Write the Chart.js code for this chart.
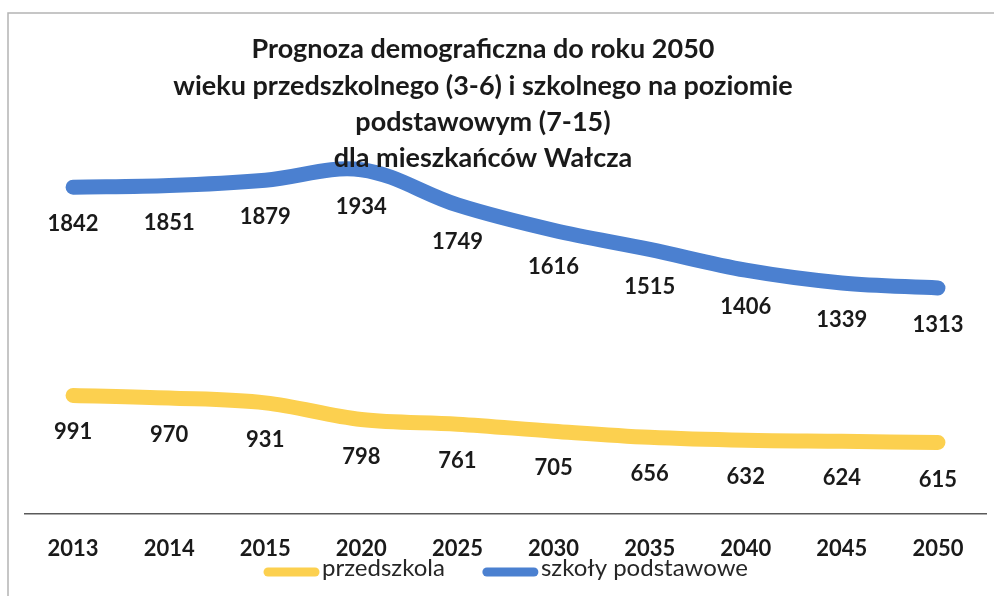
<!DOCTYPE html>
<html>
<head>
<meta charset="utf-8">
<script src="https://cdn.jsdelivr.net/npm/chart.js@4/dist/chart.umd.min.js"></script>
<style>
  html, body { margin: 0; padding: 0; background: #ffffff; }
  #wrap { width: 994px; height: 596px; position: relative; }
</style>
</head>
<body>
<div id="wrap"><canvas id="c" width="994" height="596"></canvas></div>
<script>
const titleLines = [
  'Prognoza demograficzna do roku 2050',
  'wieku przedszkolnego (3-6) i szkolnego na poziomie',
  'podstawowym (7-15)',
  'dla mieszkańców Wałcza'
];
const years = ['2013', '2014', '2015', '2020', '2025', '2030', '2035', '2040', '2045', '2050'];
const przedszkola = [991, 970, 931, 798, 761, 705, 656, 632, 624, 615];
const szkolyPodstawowe = [1842, 1851, 1879, 1934, 1749, 1616, 1515, 1406, 1339, 1313];
const seriesNames = ['przedszkola', 'szkoły podstawowe'];

const YELLOW = '#fcd04f';
const BLUE = '#4b80d0';
const FONT = 'Lato, "Open Sans", "Liberation Sans", sans-serif';

const framePlugin = {
  id: 'frame',
  beforeDraw(chart) {
    const ctx = chart.ctx;
    ctx.save();
    ctx.fillStyle = '#ffffff';
    ctx.fillRect(0, 0, chart.width, chart.height);
    ctx.strokeStyle = '#b4b4b4';
    ctx.lineWidth = 1.5;
    ctx.beginPath();
    ctx.moveTo(8, chart.height);
    ctx.lineTo(8, 13);
    ctx.lineTo(chart.width, 13);
    ctx.stroke();
    ctx.restore();
  }
};

const titlePlugin = {
  id: 'titleBlock',
  afterDraw(chart) {
    const ctx = chart.ctx;
    ctx.save();
    ctx.font = 'bold 27px ' + FONT;
    ctx.fillStyle = '#1a1a1a';
    ctx.textAlign = 'center';
    ctx.textBaseline = 'middle';
    const ys = [49, 86, 122, 158];
    titleLines.forEach((t, i) => ctx.fillText(t, 483, ys[i]));
    ctx.restore();
  }
};

const labelPlugin = {
  id: 'valueLabels',
  afterDatasetsDraw(chart) {
    const ctx = chart.ctx;
    ctx.save();
    ctx.font = 'bold 22px ' + FONT;
    ctx.fillStyle = '#1a1a1a';
    ctx.textAlign = 'center';
    ctx.textBaseline = 'middle';
    chart.data.datasets.forEach((ds, i) => {
      const meta = chart.getDatasetMeta(i);
      meta.data.forEach((pt, j) => {
        ctx.fillText(String(ds.data[j]), pt.x, pt.y + 37);
      });
    });
    ctx.restore();
  }
};

const legendPlugin = {
  id: 'customLegend',
  afterDraw(chart) {
    const ctx = chart.ctx;
    ctx.save();
    ctx.font = '24px ' + FONT;
    const sw = 55, gap = 3, spacing = 38;
    const items = chart.data.datasets.map(ds => ({
      label: ds.label, color: ds.borderColor, w: ctx.measureText(ds.label).width
    }));
    let total = 0;
    items.forEach((it, i) => { total += sw + gap + it.w + (i < items.length - 1 ? spacing : 0); });
    let x = 506 - total / 2;
    const y = 570;
    items.forEach(it => {
      ctx.strokeStyle = it.color;
      ctx.lineWidth = 9;
      ctx.lineCap = 'round';
      ctx.beginPath();
      ctx.moveTo(x + 4, y + 2);
      ctx.lineTo(x + sw - 4, y + 2);
      ctx.stroke();
      ctx.fillStyle = '#262626';
      ctx.textAlign = 'left';
      ctx.textBaseline = 'middle';
      ctx.fillText(it.label, x + sw + gap, y - 2);
      x += sw + gap + it.w + spacing;
    });
    ctx.restore();
  }
};

new Chart(document.getElementById('c'), {
  type: 'line',
  data: {
    labels: years,
    datasets: [
      {
        label: seriesNames[0],
        data: przedszkola,
        borderColor: YELLOW,
        backgroundColor: YELLOW,
        borderWidth: 15,
        borderCapStyle: 'round',
        borderJoinStyle: 'round',
        pointRadius: 0,
        tension: 0.35,
        clip: false,
        yAxisID: 'yP'
      },
      {
        label: seriesNames[1],
        data: szkolyPodstawowe,
        borderColor: BLUE,
        backgroundColor: BLUE,
        borderWidth: 15,
        borderCapStyle: 'round',
        borderJoinStyle: 'round',
        pointRadius: 0,
        tension: 0.35,
        clip: false,
        yAxisID: 'yS'
      }
    ]
  },
  options: {
    responsive: false,
    animation: false,
    layout: { padding: { left: 25, right: 8, top: 176, bottom: 12 } },
    plugins: {
      legend: { display: false },
      tooltip: { enabled: false },
      title: { display: false }
    },
    scales: {
      x: {
        offset: true,
        grid: { display: false, drawTicks: false },
        border: { display: true, color: '#5a5a5a', width: 1.5 },
        ticks: {
          color: '#1a1a1a',
          padding: 22,
          maxRotation: 0,
          autoSkip: false,
          font: { family: FONT, size: 22, weight: 'bold' }
        }
      },
      yS: {
        display: false,
        position: 'left',
        min: 127,
        max: 1901
      },
      yP: {
        display: false,
        position: 'right',
        min: 47,
        max: 2743
      }
    }
  },
  plugins: [framePlugin, titlePlugin, labelPlugin, legendPlugin]
});
</script>
</body>
</html>
